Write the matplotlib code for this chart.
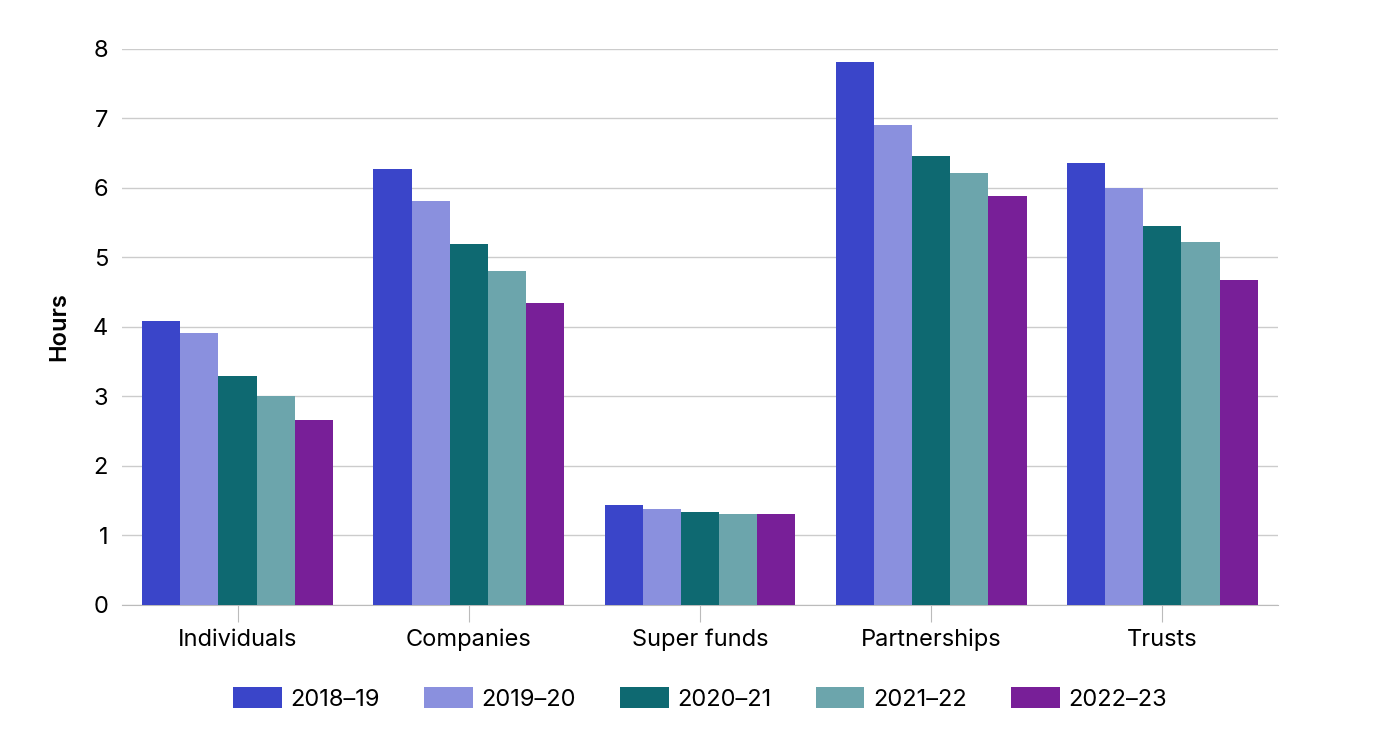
import numpy as np
import matplotlib.pyplot as plt

plt.rcParams['font.family'] = ['Inter', 'DejaVu Sans']

categories = ['Individuals', 'Companies', 'Super funds', 'Partnerships', 'Trusts']
years = ['2018\u201319', '2019\u201320', '2020\u201321', '2021\u201322', '2022\u201323']
hours = {
    '2018\u201319': [4.08, 6.27, 1.44, 7.81, 6.36],
    '2019\u201320': [3.92, 5.82, 1.38, 6.91, 6.00],
    '2020\u201321': [3.29, 5.20, 1.34, 6.46, 5.46],
    '2021\u201322': [3.01, 4.81, 1.31, 6.21, 5.22],
    '2022\u201323': [2.66, 4.35, 1.31, 5.88, 4.67],
}
colors = ['#3A45C9', '#8A90DE', '#0E6971', '#6CA5AC', '#781F98']

fig = plt.figure(figsize=(13.78, 7.48), dpi=100)
ax = fig.add_axes([0.0885, 0.1912, 0.8389, 0.7433])

x = np.arange(len(categories))
w = 0.165
for i, yr in enumerate(years):
    ax.bar(x + (i - 2) * w, hours[yr], w, color=colors[i], label=yr, zorder=3)

ax.set_xlim(-0.5, len(categories) - 0.5)
ax.set_ylim(0, 8)
ax.set_yticks(range(0, 9))
ax.set_xticks(x)
ax.set_xticklabels(categories)
ax.grid(axis='y', color='#cccccc', linewidth=1, zorder=0)
for s in ['top', 'right', 'left']:
    ax.spines[s].set_visible(False)
ax.spines['bottom'].set_color('#bbbbbb')
ax.tick_params(axis='y', length=0, labelsize=17, pad=10)
ax.tick_params(axis='x', length=12, color='#bbbbbb', labelsize=17, pad=5)
ax.set_ylabel('Hours', fontsize=17, fontweight='semibold', labelpad=16)

ax.legend(loc='upper center', bbox_to_anchor=(0.5, -0.11), ncol=5, frameon=False,
          fontsize=17, handlelength=2.05, handleheight=0.95, columnspacing=1.9,
          handletextpad=0.35)

fig.savefig('out.png', dpi=100)
